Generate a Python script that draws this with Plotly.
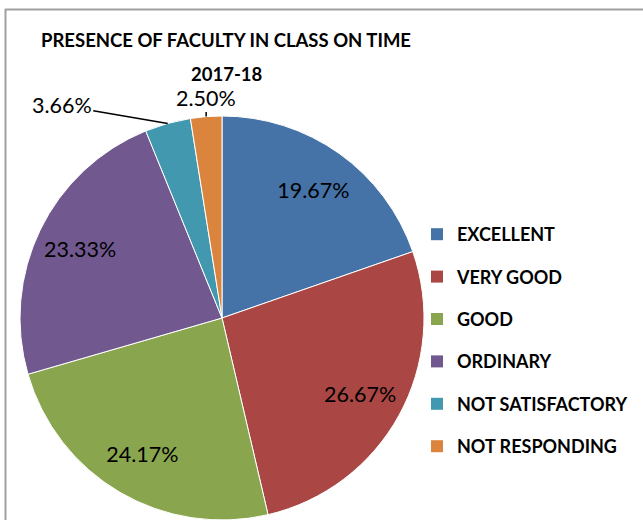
import math
import plotly.graph_objects as go

categories = ["EXCELLENT", "VERY GOOD", "GOOD", "ORDINARY", "NOT SATISFACTORY", "NOT RESPONDING"]
values = [19.67, 26.67, 24.17, 23.33, 3.66, 2.50]
colors = ["#4572A7", "#AA4643", "#89A54E", "#71588F", "#4198AF", "#DB843D"]
title_lines = ["PRESENCE OF FACULTY IN CLASS ON TIME", "2017-18"]

W, H = 643, 520
cx, cy, R = 222, 318, 202
dom_x = [(cx - R) / W, (cx + R) / W]
dom_y = [max(0, (H - cy - R) / H), min(1, (H - cy + R) / H)]

labels_txt = [f"{v:.2f}%" for v in values]
inside = [0, 1, 2, 3]
clear = ["rgba(0,0,0,0)"] * len(values)

fig = go.Figure()
# base full pie
fig.add_trace(go.Pie(
    labels=categories, values=values, sort=False, direction="clockwise", rotation=0,
    marker=dict(colors=colors, line=dict(color="white", width=1)),
    textinfo="none", hoverinfo="skip", showlegend=False, domain=dict(x=dom_x, y=dom_y),
))
# transparent annulus overlay carrying the inside labels
fig.add_trace(go.Pie(
    labels=categories, values=values, sort=False, direction="clockwise", rotation=0, hole=0.56,
    marker=dict(colors=clear, line=dict(width=0)),
    text=[t if i in inside else "" for i, t in enumerate(labels_txt)], textinfo="text",
    textposition="inside", insidetextorientation="horizontal",
    textfont=dict(family="Lato", size=21.5, color="black"),
    hoverinfo="skip", showlegend=False, domain=dict(x=dom_x, y=dom_y),
))
# legend entries
for c, col in zip(categories, colors):
    fig.add_trace(go.Scatter(
        x=[None], y=[None], mode="markers", name=c, legendgroup=c,
        marker=dict(symbol="square", size=12, color=col),
    ))

# outside labels for the two small slices, anchored at each slice's mid-angle on the rim
total = sum(values)
cum = 0.0
annots = []
offsets = {4: (-106, -18), 5: (0, -19)}
for i, v in enumerate(values):
    mid = (cum + v / 2) / total * 2 * math.pi
    cum += v
    if i in offsets:
        px = cx + R * math.sin(mid)
        py = cy - R * math.cos(mid)
        ax, ay = offsets[i]
        annots.append(dict(text=labels_txt[i], xref="paper", yref="paper", x=px / W, y=1 - py / H,
                           ax=ax, ay=ay, showarrow=True, arrowhead=0, arrowwidth=1.5,
                           arrowcolor="black", standoff=0,
                           font=dict(family="Lato", size=21.5, color="black")))

annots.append(dict(text="<b>" + title_lines[1] + "</b>", xref="paper", yref="paper",
                   x=227 / W, y=1 - 74 / H, xanchor="center", yanchor="middle", showarrow=False,
                   font=dict(family="Lato", size=18.5, color="black")))

fig.update_layout(
    width=W, height=H, margin=dict(l=0, r=0, t=0, b=0, autoexpand=False),
    paper_bgcolor="white", plot_bgcolor="white",
    xaxis=dict(visible=False), yaxis=dict(visible=False),
    uniformtext=dict(minsize=21.5, mode="show"),
    title=dict(text="<b>" + title_lines[0] + "</b>", x=226 / W, xanchor="center",
               y=1 - 41 / H, yanchor="middle", font=dict(family="Lato", size=18.5, color="black")),
    annotations=annots,
    legend=dict(x=417 / W, y=1 - 216 / H, xanchor="left", yanchor="top",
                font=dict(family="Lato", size=18, color="black", weight="bold"),
                tracegroupgap=16, itemwidth=30, bgcolor="rgba(0,0,0,0)"),
    shapes=[
        dict(type="line", xref="paper", yref="paper", x0=5.5 / W, x1=5.5 / W, y0=0, y1=1 - 9 / H,
             line=dict(color="#A0A0A0", width=2)),
        dict(type="line", xref="paper", yref="paper", x0=5 / W, x1=1, y0=1 - 9.5 / H, y1=1 - 9.5 / H,
             line=dict(color="#A0A0A0", width=2)),
    ],
)
fig.write_html("out.html", config={"displayModeBar": False},
               post_script="document.body.style.margin='0';")
